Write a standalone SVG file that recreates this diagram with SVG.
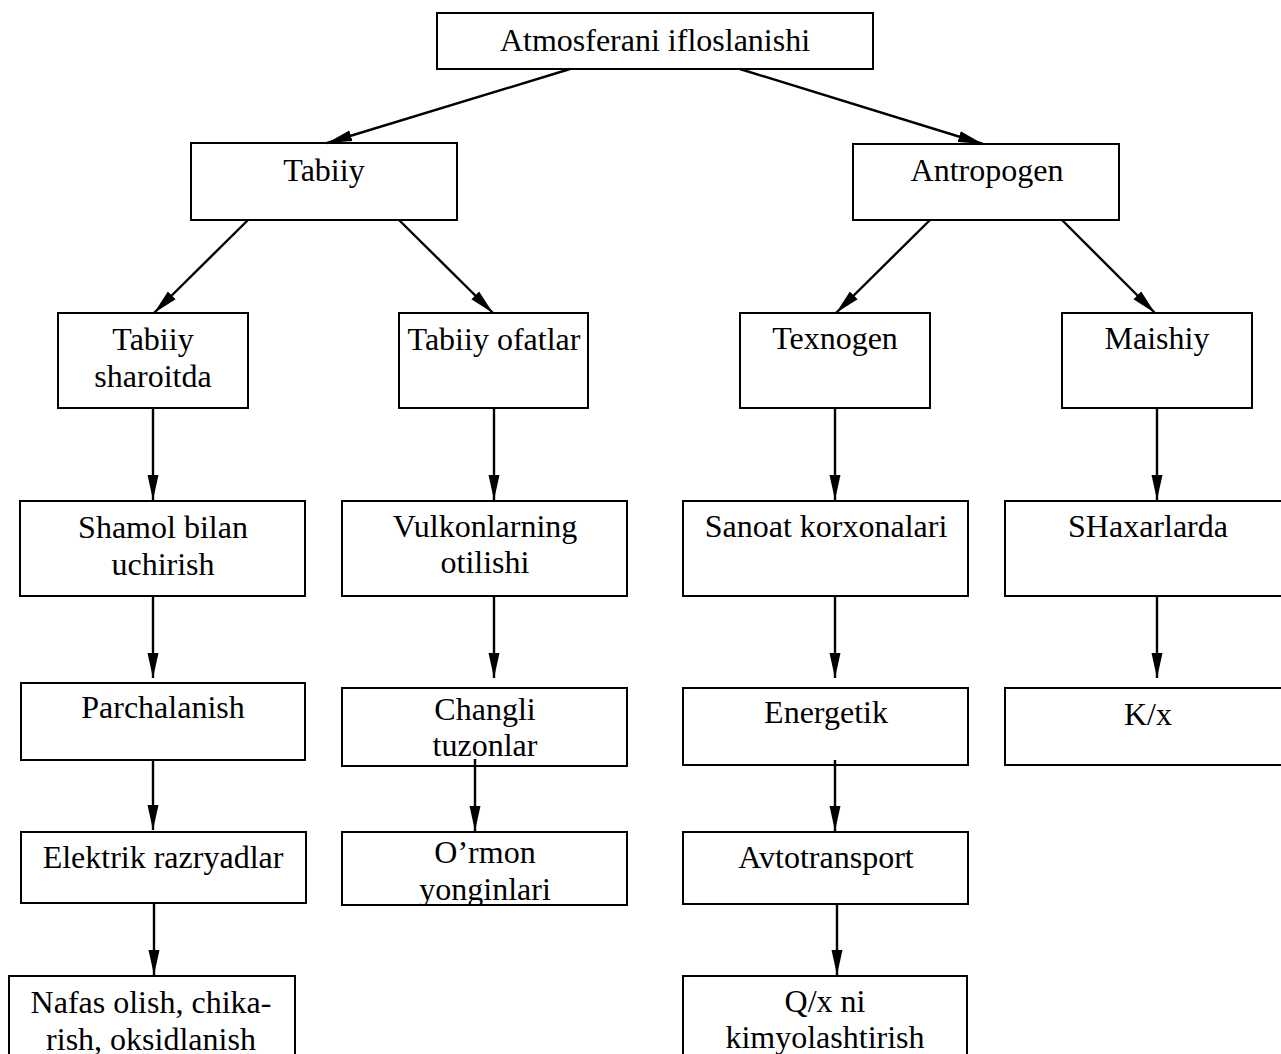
<svg xmlns="http://www.w3.org/2000/svg" width="1281" height="1054" viewBox="0 0 1281 1054">
  <style>
    .box { fill: none; stroke: #000; stroke-width: 2; }
    .lbl { font-family: "Liberation Serif", "Times New Roman", serif; font-size: 32px; fill: #000; text-anchor: middle; }
    .edge { stroke: #000; stroke-width: 2.4; fill: none; marker-end: url(#head); }
  </style>
  <defs>
    <marker id="head" markerUnits="userSpaceOnUse" markerWidth="26" markerHeight="12" refX="25" refY="6" orient="auto">
      <path d="M0,0.5 L25,6 L0,11.5 z" fill="#000"/>
    </marker>
    <clipPath id="clipOrmon"><rect x="342" y="832" width="285" height="73"/></clipPath>
  </defs>
  <rect width="1281" height="1054" fill="#fff"/>

  <!-- connectors -->
  <g id="connectors">
    <line class="edge" x1="570" y1="69" x2="327" y2="143"/>
    <line class="edge" x1="740" y1="69" x2="983" y2="144"/>
    <line class="edge" x1="248" y1="220" x2="154" y2="313"/>
    <line class="edge" x1="399" y1="220" x2="493" y2="313"/>
    <line class="edge" x1="930" y1="220" x2="836" y2="313"/>
    <line class="edge" x1="1062" y1="220" x2="1155" y2="313"/>
    <line class="edge" x1="153" y1="408" x2="153" y2="500"/>
    <line class="edge" x1="494" y1="408" x2="494" y2="500"/>
    <line class="edge" x1="835" y1="408" x2="835" y2="500"/>
    <line class="edge" x1="1157" y1="408" x2="1157" y2="500"/>
    <line class="edge" x1="153" y1="596" x2="153" y2="678"/>
    <line class="edge" x1="494" y1="596" x2="494" y2="678"/>
    <line class="edge" x1="835" y1="596" x2="835" y2="678"/>
    <line class="edge" x1="1157" y1="596" x2="1157" y2="678"/>
    <line class="edge" x1="153" y1="760" x2="153" y2="830"/>
    <line class="edge" x1="475" y1="759" x2="475" y2="831"/>
    <line class="edge" x1="835" y1="760" x2="835" y2="831"/>
    <line class="edge" x1="154" y1="903" x2="154" y2="975"/>
    <line class="edge" x1="837" y1="904" x2="837" y2="975"/>
  </g>

  <g id="n-root">
    <rect class="box" x="437" y="13" width="436" height="56"/>
    <text class="lbl" x="655" y="51">Atmosferani ifloslanishi</text>
  </g>

  <g id="n-tabiiy">
    <rect class="box" x="191" y="143" width="266" height="77"/>
    <text class="lbl" x="324" y="181">Tabiiy</text>
  </g>
  <g id="n-antropogen">
    <rect class="box" x="853" y="144" width="266" height="76"/>
    <text class="lbl" x="987" y="181">Antropogen</text>
  </g>

  <g id="n-tabiiy-sharoitda">
    <rect class="box" x="58" y="313" width="190" height="95"/>
    <text class="lbl" x="153" y="350">Tabiiy</text>
    <text class="lbl" x="153" y="387">sharoitda</text>
  </g>
  <g id="n-tabiiy-ofatlar">
    <rect class="box" x="399" y="313" width="189" height="95"/>
    <text class="lbl" x="494" y="350">Tabiiy ofatlar</text>
  </g>
  <g id="n-texnogen">
    <rect class="box" x="740" y="313" width="190" height="95"/>
    <text class="lbl" x="835" y="349">Texnogen</text>
  </g>
  <g id="n-maishiy">
    <rect class="box" x="1062" y="313" width="190" height="95"/>
    <text class="lbl" x="1157" y="349">Maishiy</text>
  </g>

  <g id="n-shamol">
    <rect class="box" x="20" y="501" width="285" height="95"/>
    <text class="lbl" x="163" y="538">Shamol bilan</text>
    <text class="lbl" x="163" y="575">uchirish</text>
  </g>
  <g id="n-vulkon">
    <rect class="box" x="342" y="501" width="285" height="95"/>
    <text class="lbl" x="485" y="537">Vulkonlarning</text>
    <text class="lbl" x="485" y="573">otilishi</text>
  </g>
  <g id="n-sanoat">
    <rect class="box" x="683" y="501" width="285" height="95"/>
    <text class="lbl" x="826" y="537">Sanoat korxonalari</text>
  </g>
  <g id="n-shaxarlarda">
    <rect class="box" x="1005" y="501" width="290" height="95"/>
    <text class="lbl" x="1148" y="537">SHaxarlarda</text>
  </g>

  <g id="n-parchalanish">
    <rect class="box" x="21" y="683" width="284" height="77"/>
    <text class="lbl" x="163" y="718">Parchalanish</text>
  </g>
  <g id="n-changli">
    <rect class="box" x="342" y="688" width="285" height="78"/>
    <text class="lbl" x="485" y="720">Changli</text>
    <text class="lbl" x="485" y="756">tuzonlar</text>
  </g>
  <g id="n-energetik">
    <rect class="box" x="683" y="688" width="285" height="77"/>
    <text class="lbl" x="826" y="723">Energetik</text>
  </g>
  <g id="n-kx">
    <rect class="box" x="1005" y="688" width="290" height="77"/>
    <text class="lbl" x="1148" y="725">K/x</text>
  </g>

  <g id="n-elektrik">
    <rect class="box" x="21" y="832" width="285" height="71"/>
    <text class="lbl" x="163" y="868">Elektrik razryadlar</text>
  </g>
  <g id="n-ormon">
    <rect class="box" x="342" y="832" width="285" height="73"/>
    <g clip-path="url(#clipOrmon)">
      <text class="lbl" x="485" y="863">O’rmon</text>
      <text class="lbl" x="485" y="900">yonginlari</text>
    </g>
  </g>
  <g id="n-avtotransport">
    <rect class="box" x="683" y="832" width="285" height="72"/>
    <text class="lbl" x="826" y="868">Avtotransport</text>
  </g>

  <g id="n-nafas">
    <rect class="box" x="9" y="976" width="286" height="90"/>
    <text class="lbl" x="151" y="1013">Nafas olish, chika-</text>
    <text class="lbl" x="151" y="1050">rish, oksidlanish</text>
  </g>
  <g id="n-qx">
    <rect class="box" x="683" y="976" width="284" height="90"/>
    <text class="lbl" x="825" y="1012">Q/x ni</text>
    <text class="lbl" x="825" y="1048">kimyolashtirish</text>
  </g>
</svg>
